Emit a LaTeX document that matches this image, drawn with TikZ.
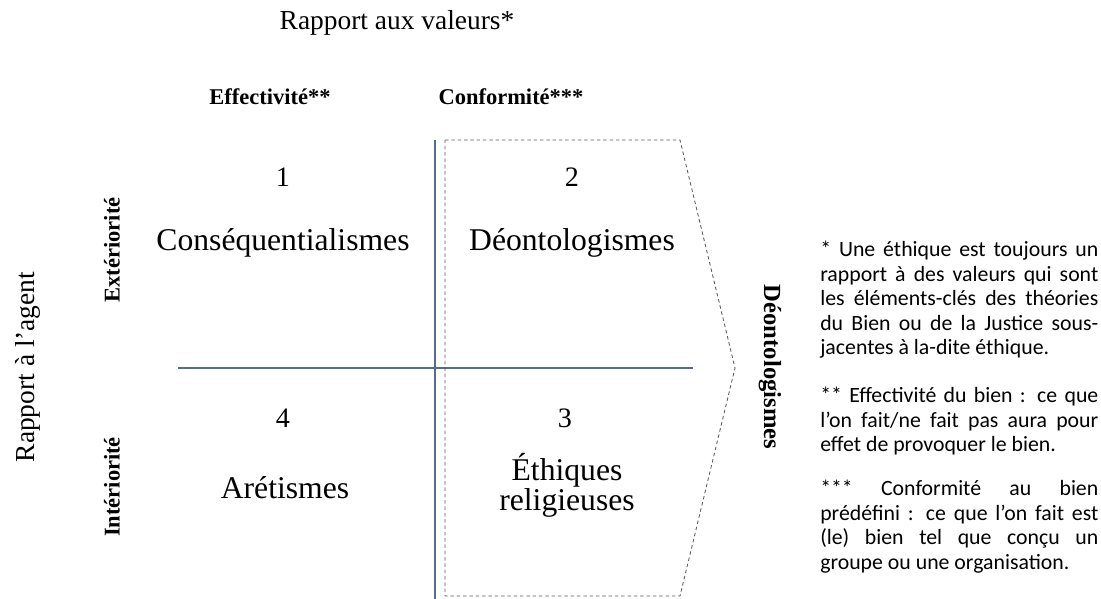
\documentclass[tikz,border=0pt]{standalone}
\usepackage{fontspec}
\setmainfont{Liberation Serif}
\newfontfamily\notefont{Carlito}
\usetikzlibrary{positioning}
\definecolor{axisblue}{RGB}{84,110,138}
\definecolor{dashgrey}{RGB}{90,90,90}

\begin{document}
\begin{tikzpicture}[x=0.025cm, y=-0.025cm,
    quadnum/.style={font=\fontsize{20}{22}\selectfont},
    quadname/.style={font=\fontsize{22.5}{21.3}\selectfont, align=center},
    colhead/.style={font=\bfseries\fontsize{16}{18}\selectfont},
    rowhead/.style={font=\bfseries\fontsize{16}{18}\selectfont, rotate=90},
    axistitle/.style={font=\fontsize{19.5}{21}\selectfont},
    notetext/.style={font=\notefont\fontsize{15.5}{17.4}\selectfont,
        text width=6.95cm, align=justify, inner sep=0pt, anchor=north west},
    divider/.style={axisblue, line width=0.8pt},
    deonto/.style={dashgrey, dash pattern=on 2.5pt off 2pt, line width=0.6pt}
]
    \useasboundingbox (0,0) rectangle (1101,599);

    % axes titles
    \node[axistitle] (valeurs) at (397,23) {Rapport aux valeurs*};
    \node[axistitle, rotate=90] (agent) at (28,367) {Rapport à l’agent};

    % column and row headings
    \node[colhead] (effect) at (270,97) {Effectivité**};
    \node[colhead] (conform) at (511,97) {Conformité***};
    \node[rowhead] (exter) at (112,250) {Extériorité};
    \node[rowhead] (inter) at (112,487) {Intériorité};

    % the two dividing lines
    \coordinate (vtop) at (435,140);
    \coordinate (vbot) at (435,599);
    \coordinate (hleft) at (178,368);
    \coordinate (hright) at (693,368);
    \draw[divider] (vtop) -- (vbot);
    \draw[divider] (hleft) -- (hright);

    % dashed arrow round the right-hand column
    \draw[deonto] (445,140) -- (680,140) -- (735,368) -- (680,596)
        -- (445,596) -- cycle;

    % quadrants
    \node[quadnum] (n1) at (283,177) {1};
    \node[quadname] (q1) at (283,243) {Conséquentialismes};
    \node[quadnum] (n2) at (572,177) {2};
    \node[quadname] (q2) at (572,243) {Déontologismes};
    \node[quadnum] (n4) at (283,418) {4};
    \node[quadname] (q4) at (285,488) {Arétismes};
    \node[quadnum] (n3) at (565,418) {3};
    \node[quadname] (q3) at (567,485) {Éthiques\\religieuses};

    \node[font=\bfseries\fontsize{17.5}{18}\selectfont, rotate=-90] (deont) at (770,367) {Déontologismes};

    % footnotes
    \node[notetext] (note1) at (820,241) {* Une éthique est toujours un\linebreak
        rapport à des valeurs qui sont\linebreak
        les éléments-clés des théories\linebreak
        du Bien ou de la Justice sous-\linebreak
        jacentes à la-dite éthique.};
    \node[notetext] (note2) at (820,387) {** Effectivité du bien~: ce que\linebreak
        l’on fait/ne fait pas aura pour\linebreak
        effet de provoquer le bien.};
    \node[notetext] (note3) at (820,480) {*** Conformité au bien\linebreak
        prédéfini~: ce que l’on fait est\linebreak
        (le) bien tel que conçu un\linebreak
        groupe ou une organisation.};
\end{tikzpicture}
\end{document}
